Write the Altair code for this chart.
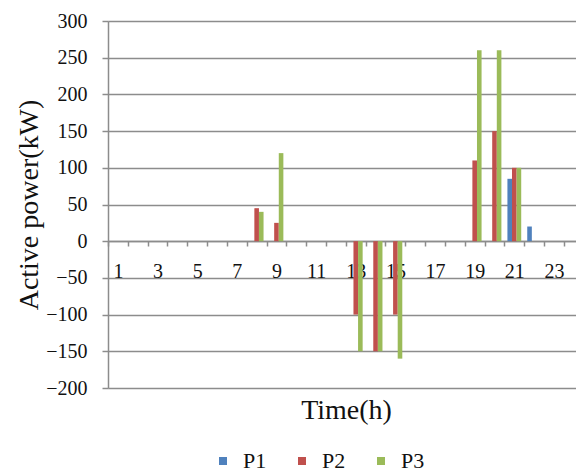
import altair as alt
import pandas as pd

hours = list(range(1, 24))
P1 = [0, 0, 0, 0, 0, 0, 0, 0, 0, 0, 0, 0, 0, 0, 0, 0, 0, 0, 0, 0, 85, 20, 0]
P2 = [0, 0, 0, 0, 0, 0, 0, 45, 25, 0, 0, 0, -100, -150, -100, 0, 0, 0, 110, 150, 100, 0, 0]
P3 = [0, 0, 0, 0, 0, 0, 0, 40, 120, 0, 0, 0, -150, -150, -160, 0, 0, 0, 260, 260, 100, 0, 0]
series_names = ["P1", "P2", "P3"]
series_colors = ["#4F81BD", "#C0504D", "#9BBB59"]
y_ticks = [-200, -150, -100, -50, 0, 50, 100, 150, 200, 250, 300]

rows = []
for name, vals in zip(series_names, [P1, P2, P3]):
    for h, v in zip(hours, vals):
        rows.append({"hour": h, "series": name, "value": v})
df = pd.DataFrame(rows)

FONT = "'Liberation Serif', 'Times New Roman', Times, Tinos, 'Noto Serif', 'DejaVu Serif', serif"
GRAY = "#8c8c8c"

chart = alt.Chart(df).mark_bar().encode(
    x=alt.X(
        "hour:O",
        scale=alt.Scale(paddingInner=0, paddingOuter=0.306, align=0),
        axis=alt.Axis(
            title="Time(h)",
            offset=-147,
            tickBand="extent",
            labelExpr="datum.value % 2 == 1 ? datum.label : ''",
            labelAngle=0,
            labelOverlap=False,
            labelFontSize=20,
            labelFont=FONT,
            labelColor="#111111",
            labelPadding=15,
            tickSize=5,
            tickColor=GRAY,
            tickWidth=1.5,
            domainColor=GRAY,
            domainWidth=1.5,
            grid=False,
            titleFont=FONT,
            titleFontSize=28,
            titleFontWeight="normal",
            titleColor="#111111",
            titleX=238,
            titleY=169,
            titleBaseline="middle",
            titleAlign="center",
        ),
    ),
    xOffset=alt.XOffset(
        "series:N",
        scale=alt.Scale(domain=series_names, paddingInner=0, paddingOuter=0.655),
    ),
    y=alt.Y(
        "value:Q",
        scale=alt.Scale(domain=[-200, 300], nice=False),
        axis=alt.Axis(
            title="Active power(kW)",
            values=y_ticks,
            grid=True,
            gridColor=GRAY,
            gridWidth=1.5,
            domainColor=GRAY,
            domainWidth=1.5,
            tickColor=GRAY,
            tickWidth=1.5,
            tickSize=6,
            labelPadding=15,
            labelFontSize=20,
            labelFont=FONT,
            labelColor="#111111",
            titleFont=FONT,
            titleFontSize=28,
            titleFontWeight="normal",
            titleColor="#111111",
            titleX=-79,
            titleBaseline="middle",
            titleAlign="center",
        ),
    ),
    color=alt.Color(
        "series:N",
        scale=alt.Scale(domain=series_names, range=series_colors),
        legend=alt.Legend(
            orient="none",
            legendX=104,
            legendY=429,
            direction="horizontal",
            title=None,
            symbolType="square",
            symbolSize=64,
            symbolStrokeWidth=0,
            symbolOpacity=1,
            labelFont=FONT,
            labelFontSize=22,
            labelColor="#111111",
            labelOffset=9,
            columnPadding=24,
            padding=0,
        ),
    ),
).properties(
    width=468,
    height=367,
    autosize=alt.AutoSizeParams(type="none"),
    padding={"left": 108, "top": 21, "right": 0, "bottom": 86},
).configure_view(
    strokeWidth=0
).configure(
    font=FONT, background="white"
)

chart.save("out.html", embed_options={"renderer": "svg", "actions": False})
